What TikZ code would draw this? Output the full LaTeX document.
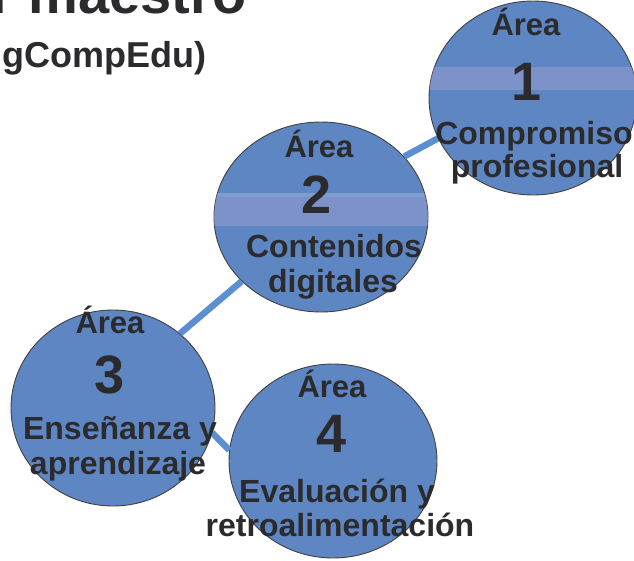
\documentclass[tikz,border=0pt]{standalone}
\usepackage{fontspec}
\setmainfont{Liberation Sans}
\usetikzlibrary{positioning,shapes.geometric}
\definecolor{AreaBlue}{HTML}{5E86C2}
\definecolor{LinkBlue}{HTML}{5C8ED2}
\definecolor{ScanBand}{HTML}{A3A2D0}
\definecolor{InkGray}{HTML}{2B2B2E}
\tikzset{
  area/.style={ellipse,draw=black!75,fill=AreaBlue,line width=.9pt,
    minimum width=208pt,minimum height=194pt,inner sep=0pt},
  link/.style={draw=LinkBlue,line width=6.5pt},
  areahead/.style={font=\bfseries\fontsize{31}{31}\selectfont,text=InkGray,
    inner sep=0pt,anchor=base},
  areanum/.style={font=\bfseries\fontsize{54}{54}\selectfont,text=InkGray,
    inner sep=0pt,anchor=base},
  areaname/.style={font=\bfseries\fontsize{32}{32}\selectfont,text=InkGray,
    inner sep=0pt,anchor=base},
  titletext/.style={font=\bfseries\fontsize{56}{56}\selectfont,text=InkGray,
    inner sep=0pt,anchor=base west},
  subtitletext/.style={font=\bfseries\fontsize{36}{36}\selectfont,text=InkGray,
    inner sep=0pt,anchor=base west}
}

\begin{document}
\begin{tikzpicture}[x=1pt,y=-1pt]
  \useasboundingbox (0,0) rectangle (634,560);
  \clip (0,0) rectangle (634,560);

  % cut-off heading
  \node[titletext] (head) at (-9,13) {r maestro};
  \node[subtitletext] (subhead) at (2,67) {gCompEdu)};

  % the four areas
  \node[area] (a1) at (533,98) {};
  \node[area,minimum width=214pt,minimum height=190pt] (a2) at (321,217) {};
  \node[area,minimum width=204pt,minimum height=196pt] (a3) at (113,408) {};
  \node[area] (a4) at (333,461) {};

  % scan stripes across the discs
  \begin{scope}
    \clip (533,98) ellipse (104 and 97) (321,217) ellipse (107 and 95);
    \fill[ScanBand,opacity=.45] (400,67) rectangle (634,90);
    \fill[white,opacity=.2] (200,193) rectangle (440,197);
    \fill[ScanBand,opacity=.45] (200,197) rectangle (440,226);
  \end{scope}

  \draw[link] (a2.36) -- (a1.203);
  \draw[link] (a2.219) -- (a3.48);
  \draw[link] (a3.346) -- (a4.174);

  \node[areahead] (h1) at (526,35) {Área};
  \node[areanum] (n1) at (527,100) {1};
  \node[areaname] (t1) at (534,144) {Compromiso};
  \node[areaname] (u1) at (537,177) {profesional};

  \node[areahead] (h2) at (319,157) {Área};
  \node[areanum] (n2) at (317,213) {2};
  \node[areaname] (t2) at (334,257) {Contenidos};
  \node[areaname] (u2) at (333,292) {digitales};

  \node[areahead] (h3) at (110,333) {Área};
  \node[areanum] (n3) at (110,393) {3};
  \node[areaname] (t3) at (120,439) {Enseñanza y};
  \node[areaname] (u3) at (118,474) {aprendizaje};

  \node[areahead] (h4) at (332,397) {Área};
  \node[areanum] (n4) at (332,452) {4};
  \node[areaname] (t4) at (337,502) {Evaluación y};
  \node[areaname] (u4) at (340,536) {retroalimentación};
\end{tikzpicture}
\end{document}
